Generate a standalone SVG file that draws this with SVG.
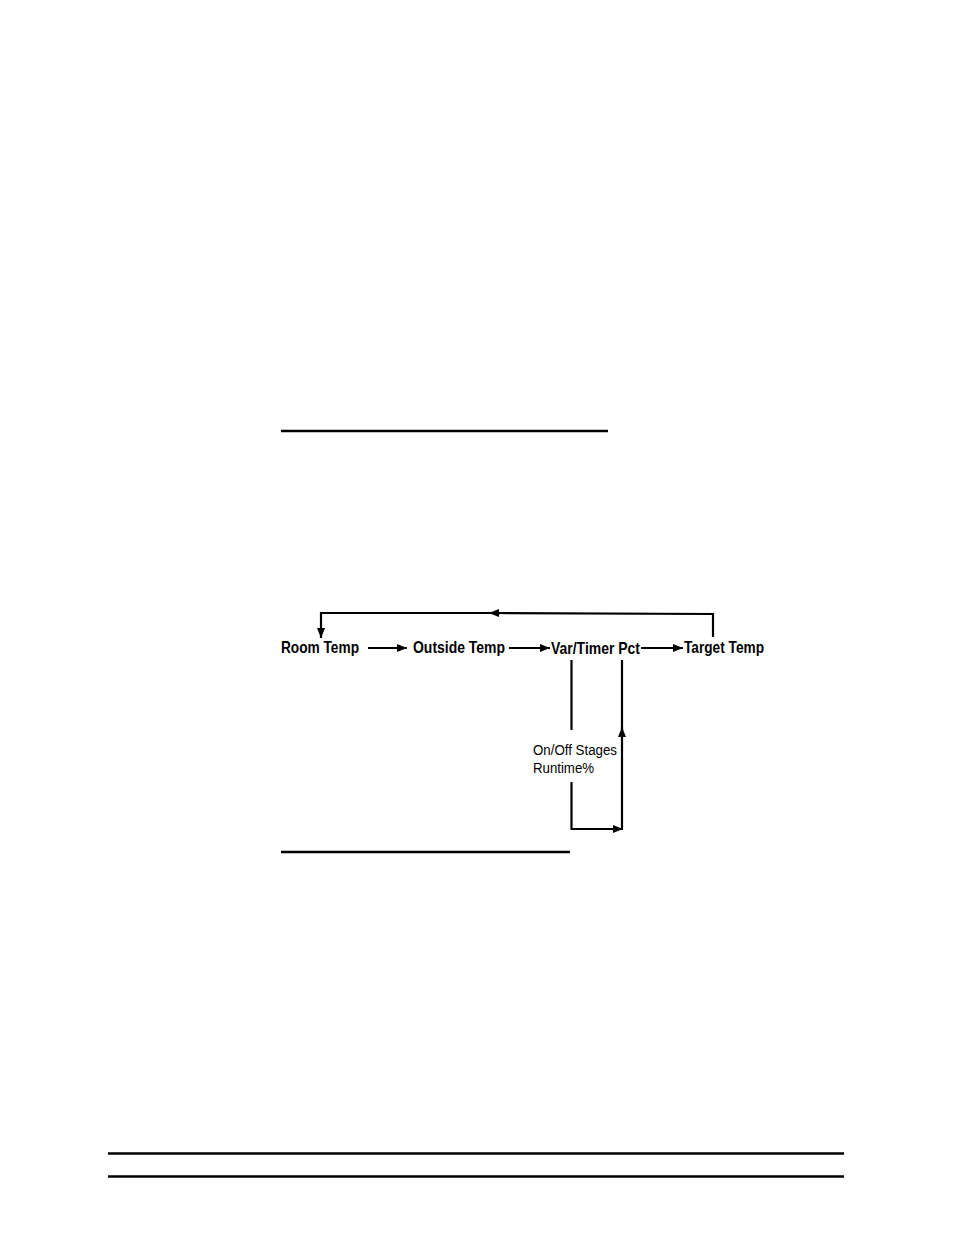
<svg xmlns="http://www.w3.org/2000/svg" width="954" height="1235" viewBox="0 0 954 1235">
<style>
.lbl{font-family:"Liberation Sans",Arial,sans-serif;font-weight:bold;font-size:16.5px;fill:#000}
.sm{font-family:"Liberation Sans",Arial,sans-serif;font-size:14px;fill:#000}
.ln{stroke:#000;stroke-width:2.2;fill:none}
.rule{stroke:#000;stroke-width:2.5}
</style>
<defs>
<marker id="ah" viewBox="0 0 10 8" refX="10" refY="4" markerWidth="10" markerHeight="8" markerUnits="userSpaceOnUse" orient="auto">
<path d="M0,0 L10,4 L0,8 Z" fill="#000"/>
</marker>
</defs>
<rect width="954" height="1235" fill="#fff"/>
<g id="rules">
<line class="rule" x1="281" y1="431" x2="608" y2="431"/>
<line class="rule" x1="281" y1="852" x2="570" y2="852"/>
<line class="rule" x1="108" y1="1153.5" x2="844" y2="1153.5"/>
<line class="rule" x1="108" y1="1176.5" x2="844" y2="1176.5"/>
</g>
<g id="connectors">
<path class="ln" d="M713,637 L713,614 L489,613" marker-end="url(#ah)"/>
<path class="ln" d="M490,613 L321,613 L321,638" marker-end="url(#ah)"/>
<line class="ln" x1="368" y1="648" x2="407" y2="648" marker-end="url(#ah)"/>
<line class="ln" x1="509" y1="648" x2="550" y2="648" marker-end="url(#ah)"/>
<line class="ln" x1="641" y1="648" x2="683" y2="648" marker-end="url(#ah)"/>
<line class="ln" x1="571.5" y1="660" x2="571.5" y2="730"/>
<path class="ln" d="M571.5,782 L571.5,829 L623,829" marker-end="url(#ah)"/>
<line class="ln" x1="622" y1="829" x2="622" y2="727" marker-end="url(#ah)"/>
<line class="ln" x1="622" y1="660" x2="622" y2="730"/>
</g>
<g id="room-temp"><text class="lbl" x="281" y="652.5" textLength="78" lengthAdjust="spacingAndGlyphs">Room Temp</text></g>
<g id="outside-temp"><text class="lbl" x="413" y="652.5" textLength="92" lengthAdjust="spacingAndGlyphs">Outside Temp</text></g>
<g id="var-timer-pct"><text class="lbl" x="551" y="653.5" textLength="89" lengthAdjust="spacingAndGlyphs">Var/Timer Pct</text></g>
<g id="target-temp"><text class="lbl" x="684" y="652.5" textLength="80" lengthAdjust="spacingAndGlyphs">Target Temp</text></g>
<g id="onoff-stages">
<text class="sm" x="533" y="755" textLength="84" lengthAdjust="spacingAndGlyphs">On/Off Stages</text>
<text class="sm" x="533" y="773" textLength="61" lengthAdjust="spacingAndGlyphs">Runtime%</text>
</g>
</svg>
